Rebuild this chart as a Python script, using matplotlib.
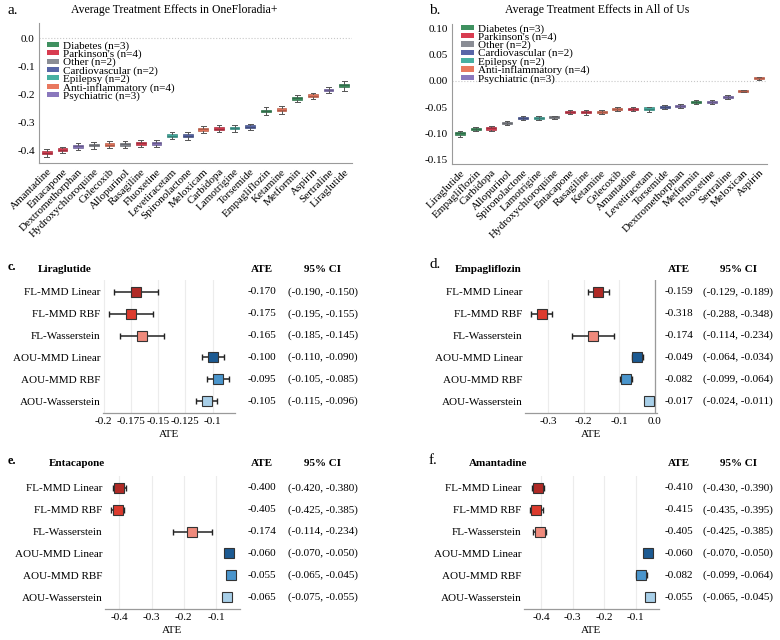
import matplotlib
matplotlib.use("Agg")
import matplotlib.pyplot as plt
import matplotlib.patches as mpatches
import matplotlib.transforms as mtransforms
from matplotlib.ticker import MaxNLocator, FuncFormatter
from matplotlib.colors import to_rgb

plt.rcParams['font.family'] = ['Liberation Serif', 'DejaVu Serif']
plt.rcParams['axes.unicode_minus'] = False
plt.rcParams['font.size'] = 8

# ---- categories ----
categories = ["Diabetes", "Parkinson's", "Other", "Cardiovascular",
              "Epilepsy", "Anti-inflammatory", "Psychiatric"]
category_counts = [3, 4, 2, 2, 2, 4, 3]
category_colors = ["#3f9160", "#d83c50", "#8a8d95", "#5866a8",
                   "#47b0a2", "#e9785f", "#8a78bd"]
drug_category = {
    "Liraglutide": "Diabetes", "Empagliflozin": "Diabetes", "Metformin": "Diabetes",
    "Amantadine": "Parkinson's", "Entacapone": "Parkinson's",
    "Rasagiline": "Parkinson's", "Carbidopa": "Parkinson's",
    "Hydroxychloroquine": "Other", "Allopurinol": "Other",
    "Spironolactone": "Cardiovascular", "Torsemide": "Cardiovascular",
    "Levetiracetam": "Epilepsy", "Lamotrigine": "Epilepsy",
    "Celecoxib": "Anti-inflammatory", "Meloxicam": "Anti-inflammatory",
    "Meloxican": "Anti-inflammatory",
    "Aspirin": "Anti-inflammatory", "Ketamine": "Anti-inflammatory",
    "Sertraline": "Psychiatric", "Fluoxetine": "Psychiatric",
    "Dextromethorphan": "Psychiatric",
}

# ---- panel a: OneFloradia+ ----
fl_drugs = ["Amantadine", "Entacapone", "Dextromethorphan", "Hydroxychloroquine",
            "Celecoxib", "Allopurinol", "Rasagiline", "Fluoxetine", "Levetiracetam",
            "Spironolactone", "Meloxicam", "Carbidopa", "Lamotrigine", "Torsemide",
            "Empagliflozin", "Ketamine", "Metformin", "Aspirin", "Sertraline",
            "Liraglutide"]
fl_med = [-0.408, -0.398, -0.386, -0.381, -0.379, -0.378, -0.374, -0.374, -0.348,
          -0.348, -0.324, -0.322, -0.320, -0.315, -0.259, -0.255, -0.214, -0.205,
          -0.184, -0.167]
fl_q1 = [-0.413, -0.403, -0.391, -0.386, -0.384, -0.383, -0.379, -0.379, -0.353,
         -0.353, -0.329, -0.327, -0.325, -0.320, -0.264, -0.260, -0.219, -0.210,
         -0.189, -0.172]
fl_q3 = [-0.403, -0.393, -0.381, -0.376, -0.374, -0.373, -0.369, -0.369, -0.343,
         -0.343, -0.319, -0.317, -0.315, -0.310, -0.254, -0.250, -0.209, -0.200,
         -0.179, -0.162]
fl_lo = [-0.422, -0.411, -0.399, -0.394, -0.391, -0.391, -0.387, -0.387, -0.361,
         -0.362, -0.337, -0.335, -0.334, -0.327, -0.273, -0.270, -0.227, -0.216,
         -0.195, -0.187]
fl_hi = [-0.396, -0.387, -0.375, -0.369, -0.367, -0.366, -0.362, -0.363, -0.336,
         -0.335, -0.312, -0.310, -0.308, -0.304, -0.246, -0.240, -0.202, -0.195,
         -0.174, -0.152]

# ---- panel b: All of Us ----
aou_drugs = ["Liraglutide", "Empagliflozin", "Carbidopa", "Allopurinol",
             "Spironolactone", "Lamotrigine", "Hydroxychloroquine", "Entacapone",
             "Rasagiline", "Ketamine", "Celecoxib", "Amantadine", "Levetiracetam",
             "Torsemide", "Dextromethorphan", "Metformin", "Fluoxetine", "Sertraline",
             "Meloxican", "Aspirin"]
aou_med = [-0.100, -0.091, -0.090, -0.080, -0.071, -0.070, -0.069, -0.059, -0.059,
           -0.059, -0.053, -0.053, -0.053, -0.050, -0.048, -0.040, -0.040, -0.030,
           -0.019, 0.005]
aou_q1 = [-0.103, -0.093, -0.093, -0.082, -0.073, -0.072, -0.071, -0.061, -0.061,
          -0.061, -0.055, -0.055, -0.056, -0.052, -0.050, -0.042, -0.042, -0.032,
          -0.021, 0.003]
aou_q3 = [-0.097, -0.089, -0.087, -0.078, -0.069, -0.068, -0.067, -0.057, -0.057,
          -0.057, -0.051, -0.051, -0.050, -0.048, -0.046, -0.038, -0.038, -0.028,
          -0.017, 0.007]
aou_lo = [-0.107, -0.095, -0.095, -0.084, -0.075, -0.074, -0.073, -0.063, -0.064,
          -0.063, -0.057, -0.057, -0.059, -0.054, -0.052, -0.044, -0.044, -0.034,
          -0.022, 0.002]
aou_hi = [-0.095, -0.087, -0.086, -0.077, -0.067, -0.066, -0.066, -0.055, -0.055,
          -0.056, -0.049, -0.049, -0.049, -0.046, -0.044, -0.036, -0.036, -0.026,
          -0.017, 0.008]

# ---- forest panels ----
methods = ["FL-MMD Linear", "FL-MMD RBF", "FL-Wasserstein",
           "AOU-MMD Linear", "AOU-MMD RBF", "AOU-Wasserstein"]
method_colors = ["#b02a26", "#dc3b2e", "#ef8a7c", "#1c5a92", "#4a95cc", "#a8cfe8"]

lira_ate = [-0.170, -0.175, -0.165, -0.100, -0.095, -0.105]
lira_ci1 = [-0.190, -0.195, -0.185, -0.110, -0.105, -0.115]
lira_ci2 = [-0.150, -0.155, -0.145, -0.090, -0.085, -0.096]

empa_ate = [-0.159, -0.318, -0.174, -0.049, -0.082, -0.017]
empa_ci1 = [-0.129, -0.288, -0.114, -0.064, -0.099, -0.024]
empa_ci2 = [-0.189, -0.348, -0.234, -0.034, -0.064, -0.011]

enta_ate = [-0.400, -0.405, -0.174, -0.060, -0.055, -0.065]
enta_ci1 = [-0.420, -0.425, -0.114, -0.070, -0.065, -0.075]
enta_ci2 = [-0.380, -0.385, -0.234, -0.050, -0.045, -0.055]

aman_ate = [-0.410, -0.415, -0.405, -0.060, -0.082, -0.055]
aman_ci1 = [-0.430, -0.435, -0.425, -0.070, -0.099, -0.065]
aman_ci2 = [-0.390, -0.395, -0.385, -0.050, -0.064, -0.045]

W, H = 780, 640
fig = plt.figure(figsize=(W / 100, H / 100), dpi=100)


def rect(x0, y0, x1, y1):
    return [x0 / W, 1 - y1 / H, (x1 - x0) / W, (y1 - y0) / H]


def ftext(x, y, s, **kw):
    fig.text(x / W, 1 - y / H, s, va="center", **kw)


def darker(c, f=0.7):
    r, g, b = to_rgb(c)
    return (r * f, g * f, b * f)


def short_fmt(v, pos=None):
    s = f"{v:.3f}".rstrip("0")
    if s.endswith("."):
        s += "0"
    if s in ("-0.0", "-0."):
        s = "0.0"
    return s


cat_color = dict(zip(categories, category_colors))


def box_panel(ax, drugs, med, q1, q3, lo, hi, ylim, yticks, yfmt, legend_anchor):
    stats = [dict(med=m, q1=a, q3=b, whislo=l, whishi=h, fliers=[])
             for m, a, b, l, h in zip(med, q1, q3, lo, hi)]
    bp = ax.bxp(stats, positions=range(len(drugs)), widths=0.62, patch_artist=True,
                showfliers=False, capwidths=0.3,
                whiskerprops=dict(color="#555555", lw=0.7),
                capprops=dict(color="#555555", lw=0.7),
                medianprops=dict(lw=1.0))
    for i, d in enumerate(drugs):
        c = cat_color[drug_category[d]]
        bp["boxes"][i].set_facecolor(c)
        bp["boxes"][i].set_edgecolor(darker(c, 0.8))
        bp["boxes"][i].set_linewidth(0.5)
        bp["medians"][i].set_color(darker(c, 0.75))
    ax.axhline(0, color="#c8c8c8", lw=0.8, ls=":", zorder=0)
    ax.set_xlim(-0.5, len(drugs) - 0.5)
    ax.set_ylim(*ylim)
    ax.set_yticks(yticks)
    ax.yaxis.set_major_formatter(FuncFormatter(yfmt))
    ax.set_xticks(range(len(drugs)))
    ax.set_xticklabels(drugs, rotation=45, ha="right", rotation_mode="anchor")
    ax.tick_params(length=0, labelsize=8, pad=3)
    for s in ("top", "right"):
        ax.spines[s].set_visible(False)
    for s in ("left", "bottom"):
        ax.spines[s].set_color("#9a9a9a")
        ax.spines[s].set_linewidth(0.8)
    handles = [mpatches.Patch(facecolor=c, edgecolor="none") for c in category_colors]
    labels = [f"{c} (n={n})" for c, n in zip(categories, category_counts)]
    ax.legend(handles, labels, loc="upper left", bbox_to_anchor=legend_anchor,
              frameon=False, fontsize=8, labelspacing=-0.12, handlelength=1.1,
              handleheight=0.35, handletextpad=0.4, borderpad=0, borderaxespad=0)


ax_a = fig.add_axes(rect(39, 23, 352, 163))
box_panel(ax_a, fl_drugs, fl_med, fl_q1, fl_q3, fl_lo, fl_hi, (-0.445, 0.055),
          [0.0, -0.1, -0.2, -0.3, -0.4], lambda v, p: f"{v:.1f}".replace("-0.0", "0.0"),
          (0.025, 0.87))
ftext(8, 10, "a.", fontsize=11, ha="left")
ftext(174, 10, "Average Treatment Effects in OneFloradia+", fontsize=8.5, ha="center")

ax_b = fig.add_axes(rect(452, 24, 767, 164))
box_panel(ax_b, aou_drugs, aou_med, aou_q1, aou_q3, aou_lo, aou_hi, (-0.158, 0.108),
          [0.10, 0.05, 0.0, -0.05, -0.10, -0.15],
          lambda v, p: f"{v:.2f}".replace("-0.00", "0.00"), (0.03, 1.0))
ftext(429, 10, "b.", fontsize=11, ha="left")
ftext(597, 10, "Average Treatment Effects in All of Us", fontsize=8.5, ha="center")


def forest_panel(box, ate, ci1, ci2, hx):
    x0, y0, x1, y1 = box
    ax = fig.add_axes(rect(x0, y0, x1, y1))
    rows = list(range(len(methods)))
    lows = [min(a, b) for a, b in zip(ci1, ci2)]
    highs = [max(a, b) for a, b in zip(ci1, ci2)]
    for r, a, l, h, c in zip(rows, ate, lows, highs, method_colors):
        ax.errorbar(a, r, xerr=[[a - l], [h - a]], fmt="none", ecolor="#222222",
                    elinewidth=1.1, capsize=2.5, capthick=1.0, zorder=2)
        ax.plot(a, r, marker="s", ms=6.8, mfc=c, mec="#333333", mew=0.8, zorder=3)
    span = max(highs) - min(lows)
    ax.set_xlim(min(lows) - 0.05 * span, max(highs) + 0.05 * span)
    ax.set_ylim(len(methods) - 0.45, -0.55)
    ax.axvline(0, color="#9a9a9a", lw=0.9, zorder=1)
    ax.xaxis.set_major_locator(MaxNLocator(5, steps=[1, 2.5, 5, 10]))
    ax.xaxis.set_major_formatter(FuncFormatter(short_fmt))
    ax.grid(axis="x", color="#ececec", lw=0.8, zorder=0)
    ax.set_axisbelow(True)
    ax.set_yticks(rows)
    ax.set_yticklabels(methods, fontsize=8)
    ax.tick_params(axis="y", length=0, pad=2)
    ax.tick_params(axis="x", length=0, labelsize=8, pad=3)
    ax.set_xlabel("ATE", fontsize=8, labelpad=3)
    for s in ("top", "right", "left"):
        ax.spines[s].set_visible(False)
    ax.spines["bottom"].set_color("#9a9a9a")
    ax.spines["bottom"].set_linewidth(0.9)
    tr = mtransforms.blended_transform_factory(fig.transFigure, ax.transData)
    ate_x, ci_x = hx
    for r, a, c1, c2 in zip(rows, ate, ci1, ci2):
        ax.text(ate_x / W, r, f"{a:.3f}", transform=tr, ha="center", va="center",
                fontsize=8)
        ax.text(ci_x / W, r, f"({c1:.3f}, {c2:.3f})", transform=tr, ha="center",
                va="center", fontsize=8)
    return ax


forest_panel((103, 280, 235, 413), lira_ate, lira_ci1, lira_ci2, (262, 323))
forest_panel((525, 280, 657, 413), empa_ate, empa_ci1, empa_ci2, (679, 738))
forest_panel((105, 476, 240, 609), enta_ate, enta_ci1, enta_ci2, (262, 323))
forest_panel((524, 476, 659, 609), aman_ate, aman_ci1, aman_ci2, (679, 738))

# headers
ftext(8, 267, "c.", fontsize=9, fontweight="bold", ha="left")
ftext(65, 269, "Liraglutide", fontsize=8, fontweight="bold", ha="center")
ftext(262, 269, "ATE", fontsize=8, fontweight="bold", ha="center")
ftext(323, 269, "95% CI", fontsize=8, fontweight="bold", ha="center")

ftext(429, 265, "d.", fontsize=11, ha="left")
ftext(488, 269, "Empagliflozin", fontsize=8, fontweight="bold", ha="center")
ftext(679, 269, "ATE", fontsize=8, fontweight="bold", ha="center")
ftext(738, 269, "95% CI", fontsize=8, fontweight="bold", ha="center")

ftext(8, 461, "e.", fontsize=9, fontweight="bold", ha="left")
ftext(77, 463, "Entacapone", fontsize=8, fontweight="bold", ha="center")
ftext(262, 463, "ATE", fontsize=8, fontweight="bold", ha="center")
ftext(323, 463, "95% CI", fontsize=8, fontweight="bold", ha="center")

ftext(429, 461, "f.", fontsize=11, ha="left")
ftext(498, 463, "Amantadine", fontsize=8, fontweight="bold", ha="center")
ftext(679, 463, "ATE", fontsize=8, fontweight="bold", ha="center")
ftext(738, 463, "95% CI", fontsize=8, fontweight="bold", ha="center")

fig.savefig("out.png", dpi=100)
